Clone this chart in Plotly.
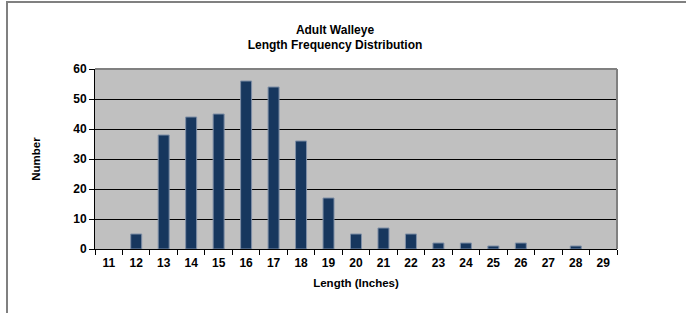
import plotly.graph_objects as go

lengths = [str(v) for v in range(11, 30)]
counts = [0, 5, 38, 44, 45, 56, 54, 36, 17, 5, 7, 5, 2, 2, 1, 2, 0, 1, 0]
y_ticks = [0, 10, 20, 30, 40, 50, 60]

W, H = 686, 313
L, R, T, B = 95, 617, 69, 249
pw, ph = R - L, B - T

def px(x):
    return (x - L) / pw

def py(y):
    return (B - y) / ph

FAM = "Liberation Sans, Arial, sans-serif"
font = dict(family=FAM, size=11, color="black")
tickfont = dict(family=FAM, size=12, color="black", weight="bold")

# zero counts draw no bar (not even an outline)
bar_values = [c if c else None for c in counts]

fig = go.Figure(go.Bar(
    x=lengths, y=bar_values,
    marker=dict(color="#17375E", line=dict(color="#7F8FA6", width=1)),
    width=0.4,
))

fig.update_layout(
    width=W, height=H,
    margin=dict(l=L, r=W - R, t=T, b=H - B, autoexpand=False),
    paper_bgcolor="white",
    plot_bgcolor="#C0C0C0",
    showlegend=False,
    font=font,
    title=dict(
        text="<b>Adult Walleye<br>Length Frequency Distribution</b>",
        x=335 / W, xanchor="center", xref="container",
        y=1 - 33.5 / H, yanchor="middle", yref="container",
        font=dict(family=FAM, size=12, color="black"),
    ),
    xaxis=dict(
        type="category",
        categoryorder="array", categoryarray=lengths,
        tickson="boundaries",
        ticks="outside", ticklen=5, tickcolor="black",
        ticklabelstandoff=3,
        showline=True, linecolor="black", linewidth=1,
        showgrid=False,
        tickfont=tickfont,
        automargin=False,
        title=dict(text="<b>Length (Inches)</b>", standoff=9,
                   font=dict(family=FAM, size=11.5, color="black")),
    ),
    yaxis=dict(
        range=[0, 60],
        tickvals=y_ticks,
        ticks="outside", ticklen=5, tickcolor="black",
        showline=True, linecolor="black", linewidth=1,
        showgrid=True, gridcolor="black", gridwidth=1,
        zeroline=False,
        tickfont=tickfont,
        automargin=False,
        title=dict(text="<b>Number</b>", standoff=30,
                   font=dict(family=FAM, size=11.5, color="black")),
    ),
    shapes=[
        dict(type="line", xref="paper", yref="paper", x0=0, x1=1, y0=1, y1=1,
             line=dict(color="#808080", width=2), layer="above"),
        dict(type="line", xref="paper", yref="paper", x0=1, x1=1, y0=0, y1=1,
             line=dict(color="#808080", width=2), layer="above"),
        dict(type="rect", xref="paper", yref="paper",
             x0=px(7), x1=px(W + 5), y0=py(H + 5), y1=py(2),
             line=dict(color="#808080", width=2), fillcolor="rgba(0,0,0,0)", layer="above"),
    ],
)

fig.write_html("out.html", config={"displayModeBar": False},
               post_script="document.body.style.margin='0';")
